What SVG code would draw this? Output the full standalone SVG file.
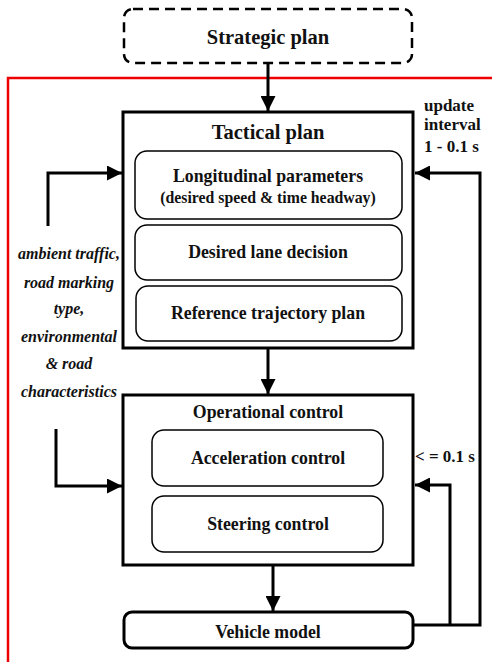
<svg xmlns="http://www.w3.org/2000/svg" width="492" height="662" viewBox="0 0 492 662">
<style>
text{font-family:"Liberation Serif","Times New Roman","DejaVu Serif",serif;font-weight:700;fill:#111}
.c{text-anchor:middle}
.big{font-size:20.5px}
.mid{font-size:17.8px}
.sm{font-size:15.8px}
.it{font-style:italic;font-size:16px;text-anchor:middle}
.lbl{font-size:17px}
.box{fill:#fff;stroke:#000;stroke-width:3}
.inner{fill:#fff;stroke:#000;stroke-width:1.5}
.ln{fill:none;stroke:#000;stroke-width:3}
</style>
<defs>
<marker id="ah" viewBox="0 0 10 10" refX="10" refY="5" markerWidth="5.3" markerHeight="5" orient="auto" markerUnits="strokeWidth">
<path d="M0,0 L10,5 L0,10 z" fill="#000"/>
</marker>
</defs>
<rect width="492" height="662" fill="#fff"/>
<g id="boundary">
<path d="M492,78 H8 V662" fill="none" stroke="#e00" stroke-width="2.5"/>
</g>
<g id="connectors">
<line class="ln" x1="268" y1="64" x2="268" y2="111" marker-end="url(#ah)"/>
<line class="ln" x1="268" y1="348" x2="268" y2="394" marker-end="url(#ah)"/>
<line class="ln" x1="273" y1="565" x2="273" y2="611" marker-end="url(#ah)"/>
<path class="ln" d="M48,226 V173 H122" marker-end="url(#ah)"/>
<path class="ln" d="M56,429 V486 H122" marker-end="url(#ah)"/>
<path class="ln" d="M413,625 H480 V173 H415" marker-end="url(#ah)"/>
<path class="ln" d="M450,625 V485 H415" marker-end="url(#ah)"/>
</g>
<g id="strategic">
<rect x="124" y="9" width="288" height="54" rx="9" fill="#fff" stroke="#000" stroke-width="2.5" stroke-dasharray="10,6"/>
<text class="c big" x="268" y="44">Strategic plan</text>
</g>
<g id="tactical">
<rect class="box" x="123" y="112" width="290" height="236"/>
<text class="c big" x="268" y="139">Tactical plan</text>
</g>
<g id="longitudinal">
<rect class="inner" x="135" y="151" width="267" height="68" rx="12"/>
<text class="c mid" x="268" y="182">Longitudinal parameters</text>
<text class="c sm" x="268" y="203">(desired speed &amp; time headway)</text>
</g>
<g id="lane">
<rect class="inner" x="135" y="225" width="267" height="55" rx="12"/>
<text class="c mid" x="268" y="258">Desired lane decision</text>
</g>
<g id="reference">
<rect class="inner" x="136" y="286" width="266" height="55" rx="12"/>
<text class="c mid" x="268" y="319">Reference trajectory plan</text>
</g>
<g id="operational">
<rect class="box" x="123" y="395" width="290" height="170"/>
<text class="c mid" x="268" y="418">Operational control</text>
</g>
<g id="acceleration">
<rect class="inner" x="152" y="430" width="231" height="56" rx="12"/>
<text class="c mid" x="268" y="464">Acceleration control</text>
</g>
<g id="steering">
<rect class="inner" x="152" y="496" width="231" height="56" rx="12"/>
<text class="c mid" x="268" y="530">Steering control</text>
</g>
<g id="vehicle">
<rect x="124" y="612" width="289" height="36" rx="8" fill="#fff" stroke="#000" stroke-width="3"/>
<text class="c mid" x="268" y="638">Vehicle model</text>
</g>
<g id="labels">
<text class="it" x="69" y="259">ambient traffic,</text>
<text class="it" x="69" y="288">road marking</text>
<text class="it" x="69" y="314">type,</text>
<text class="it" x="69" y="342">environmental</text>
<text class="it" x="69" y="369">&amp; road</text>
<text class="it" x="69" y="397">characteristics</text>
<text class="lbl" x="424" y="111">update</text>
<text class="lbl" x="424" y="130">interval</text>
<text class="lbl" x="424" y="152">1 - 0.1 s</text>
<text class="lbl" x="415" y="462">&lt; = 0.1 s</text>
</g>
</svg>
